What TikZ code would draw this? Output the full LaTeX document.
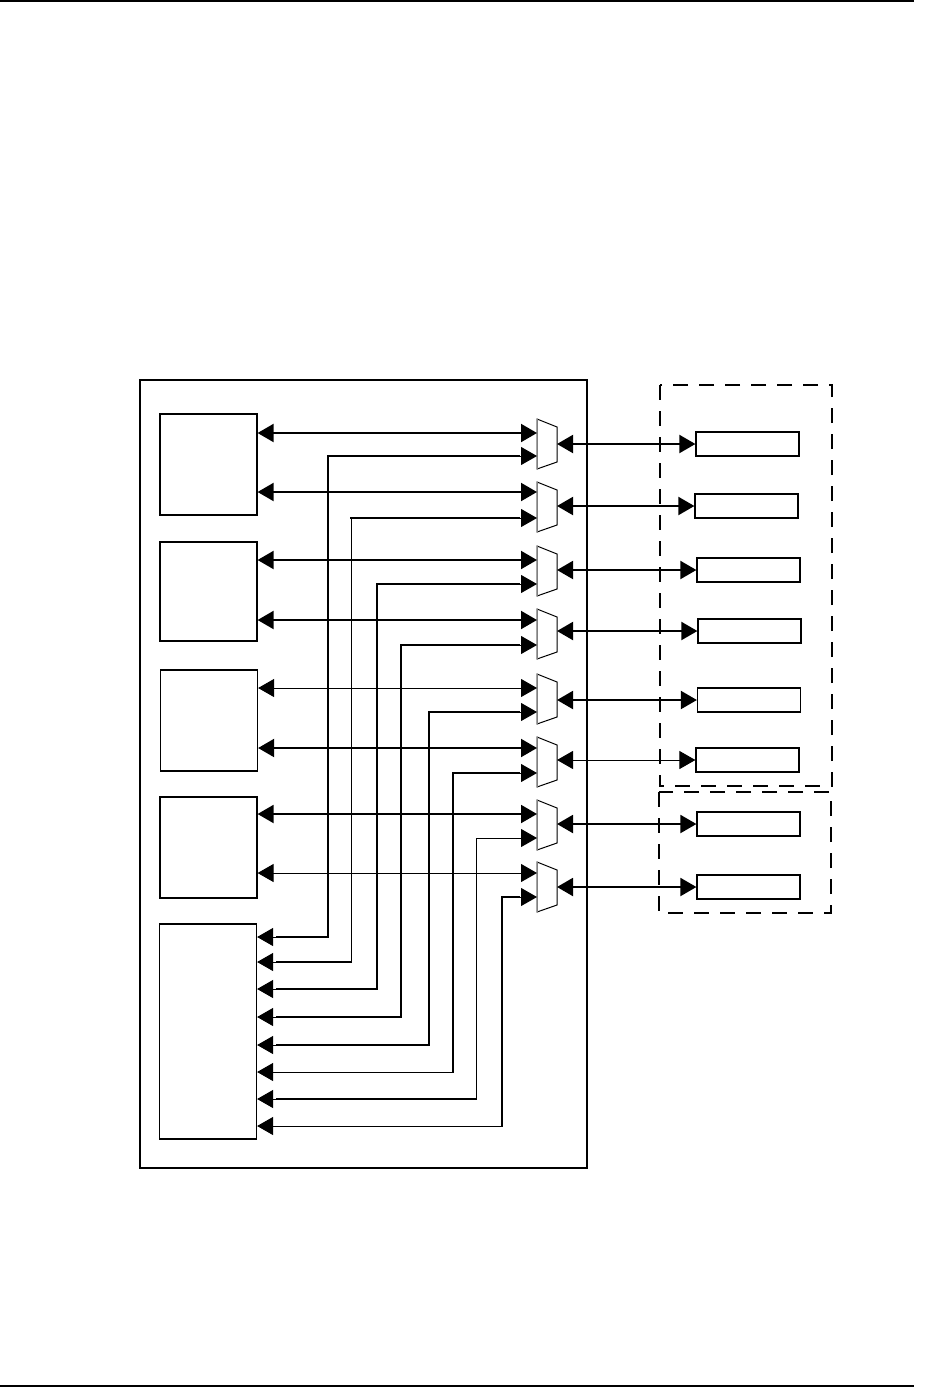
\documentclass[tikz,border=0pt]{standalone}
\usetikzlibrary{arrows.meta}
\tikzset{
  bigtri/.tip={Triangle[length=16pt,width=18pt]},
  thk/.style={line width=2pt},
  thn/.style={line width=1pt},
  both/.style={{bigtri}-{bigtri}},
  blk/.style={draw,line width=1.2pt,inner sep=0pt,minimum width=97pt},
  rbox/.style={draw,line width=1.2pt,inner sep=0pt,minimum width=103pt,minimum height=24pt},
  muxst/.style={draw=black,line width=1pt,fill=white},
  dbox/.style={line width=2pt,dash pattern=on 15pt off 11pt},
  seg/.style={line width=2pt,line cap=rect},
}
\begin{document}
\begin{tikzpicture}[x=1pt,y=-1pt]
\useasboundingbox (0,0) rectangle (934,1387);
% page rules
\draw[line width=2pt] (0,1) coordinate (pt1) -- (914,1) coordinate (pt2);
\draw[line width=2pt] (0,1385.5) coordinate (pb1) -- (914,1385.5) coordinate (pb2);
% outer box
\draw[line width=2pt] (140,380) rectangle (587,1168);
% dashed boxes
\draw[dbox] (660,385) rectangle (832,786);
\draw[dbox] (659,792) rectangle (831,913);
% left blocks
\node[blk,minimum height=101pt] (b1) at (208.5,464.5) {};
\node[blk,minimum height=99pt]  (b2) at (208.5,591.5) {};
\node[blk,minimum height=101pt] (b3) at (209,720.5) {};
\node[blk,minimum height=101pt] (b4) at (208.5,847.5) {};
\node[blk,minimum height=215pt] (b5) at (208,1031.5) {};
% right boxes
\node[rbox] (r1) at (747.5,444) {};
\node[rbox] (r2) at (746.5,506) {};
\node[rbox] (r3) at (748.5,570) {};
\node[rbox] (r4) at (749.5,631) {};
\node[rbox] (r5) at (749,700) {};
\node[rbox] (r6) at (747.5,760) {};
\node[rbox] (r7) at (748.5,824) {};
\node[rbox] (r8) at (748.5,887) {};
% mux coordinates
\foreach \i/\a/\b/\o in {1/433/456/444,2/492/518/506,3/560/584/570,4/620/645/631,
                          5/688/712/700,6/748/773/760,7/814/838/824,8/873/897/887}{
  \coordinate (m\i a) at (537,\a);
  \coordinate (m\i b) at (537,\b);
  \coordinate (m\i o) at (557,\o);
}
% route corner coordinates
\coordinate (v1) at (328,937);
\coordinate (v2) at (351,962);
\coordinate (v3) at (377,989);
\coordinate (v4) at (401,1017);
\coordinate (v5) at (429,1045);
\coordinate (v6) at (453,1072);
\coordinate (v7) at (476,1099);
\coordinate (v8) at (502,1126);
% block to mux (first inputs)
\draw[thk,both] (b1.east |- m1a) -- (m1a);
\draw[thk,both] (b1.east |- m2a) -- (m2a);
\draw[thk,both] (b2.east |- m3a) -- (m3a);
\draw[thk,both] (b2.east |- m4a) -- (m4a);
\draw[thn,both] (b3.east |- m5a) -- (m5a);
\draw[thk,both] (b3.east |- m6a) -- (m6a);
\draw[thk,both] (b4.east |- m7a) -- (m7a);
\draw[thn,both] (b4.east |- m8a) -- (m8a);
% routes from second inputs to bottom block
\foreach \i in {1,...,8}{
  \draw[thn,both] (b5.east |- v\i) -- (v\i) |- (m\i b);
}
% thick overlays (bottom / vertical / top)
\foreach \i in {1,2,3,4,5,7}{ \draw[seg] ([xshift=20pt]b5.east |- v\i) -- (v\i); }
\foreach \i in {1,3,4,5,6,8}{ \draw[seg] (v\i) -- (v\i |- m\i b); }
\foreach \i in {1,2,3,4,5,6,8}{ \draw[seg] (v\i |- m\i b) -- ([xshift=-18pt]m\i b); }
% mux outputs to right boxes
\draw[thk,both] (m1o) -- (r1.west);
\draw[thk,both] (m2o) -- (r2.west);
\draw[thk,both] (m3o) -- (r3.west);
\draw[thk,both] (m4o) -- (r4.west);
\draw[thk,both] (m5o) -- (r5.west);
\draw[thn,both] (m6o) -- (r6.west);
\draw[thk,both] (m7o) -- (r7.west);
\draw[thk,both] (m8o) -- (r8.west);
% muxes
\foreach \t in {419,482,546,609,674,737,800,862}{
  \draw[muxst] (537,\t) -- (557,\t+8) -- (557,\t+43) -- (537,\t+50) -- cycle;
  \draw[gray,line width=1pt] (537,\t) -- (537,\t+50);
}
\end{tikzpicture}
\end{document}
